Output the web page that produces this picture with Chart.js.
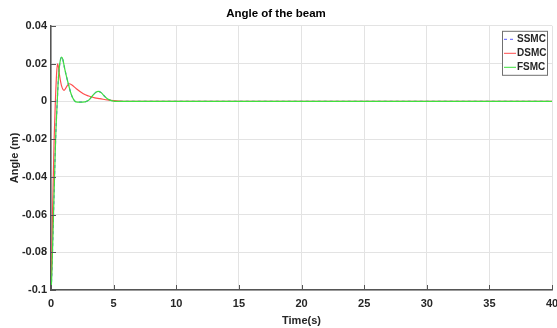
<!DOCTYPE html>
<html>
<head>
<meta charset="utf-8">
<script src="https://cdn.jsdelivr.net/npm/chart.js@4/dist/chart.umd.min.js"></script>
<style>
  html, body { margin: 0; padding: 0; background: #fff; }
  #wrap { width: 557px; height: 328px; position: relative; }
</style>
</head>
<body>
<div id="wrap"><canvas id="myChart"></canvas></div>
<script>
// beam angle responses of the three controllers
const ssmcTime = [0, 0.05, 0.2, 0.37, 0.5, 0.6, 0.7, 0.85, 0.95, 1.1, 1.38, 1.6, 1.8, 2.0, 2.3, 2.7, 3.0, 3.3, 3.55, 3.78, 4.0, 4.3, 4.6, 4.9, 5.1, 5.5, 40];
const ssmcAngle = [-0.099, -0.094, -0.06, -0.02, 0, 0.013, 0.02, 0.0233, 0.022, 0.017, 0.0093, 0.004, 0.001, -0.0003, -0.0004, -0.0003, 0.0005, 0.0028, 0.0046, 0.0053, 0.0046, 0.0025, 0.0009, 0.0002, 0, 0, 0];

const dsmcTime = [0, 0.03, 0.12, 0.25, 0.35, 0.45, 0.52, 0.6, 0.7, 0.85, 1.04, 1.25, 1.44, 1.7, 2.0, 2.58, 3.0, 3.5, 3.9, 4.5, 5.0, 5.5, 6.0, 40];
const dsmcAngle = [-0.096, -0.094, -0.06, -0.02, 0, 0.015, 0.0199, 0.018, 0.013, 0.008, 0.0058, 0.0078, 0.0093, 0.0085, 0.0068, 0.004, 0.0028, 0.0018, 0.0014, 0.0007, 0.0003, 0.0001, 0, 0];

const fsmcTime = [0, 0.05, 0.2, 0.37, 0.5, 0.6, 0.7, 0.85, 0.95, 1.1, 1.38, 1.6, 1.8, 2.0, 2.3, 2.7, 3.0, 3.3, 3.55, 3.78, 4.0, 4.3, 4.6, 4.9, 5.1, 5.5, 40];
const fsmcAngle = [-0.1, -0.095, -0.06, -0.02, 0, 0.013, 0.02, 0.0234, 0.022, 0.017, 0.0093, 0.004, 0.001, -0.0003, -0.0004, -0.0003, 0.0005, 0.0028, 0.0046, 0.0053, 0.0046, 0.0025, 0.0009, 0.0002, 0, 0, 0];

const xTicks = [0, 5, 10, 15, 20, 25, 30, 35, 40];
const yTicks = [-0.1, -0.08, -0.06, -0.04, -0.02, 0, 0.02, 0.04];

const toPoints = (ts, vs) => ts.map((t, i) => ({ x: t, y: vs[i] }));

const boldFont = { family: "'Liberation Sans', Arial, sans-serif", weight: "bold", size: 11 };
const inkColor = "#262626";
const axisColor = "#555555";
const gridColor = "#e3e3e3";

// MATLAB-style inward ticks and legend box inside the axes
const axesDecor = {
  id: "axesDecor",
  afterDraw(chart) {
    const { ctx, chartArea, scales } = chart;
    ctx.save();
    ctx.strokeStyle = axisColor;
    ctx.lineWidth = 1;
    ctx.beginPath();
    xTicks.forEach((t) => {
      const px = Math.round(scales.x.getPixelForValue(t)) + 0.5;
      ctx.moveTo(px, chartArea.bottom);
      ctx.lineTo(px, chartArea.bottom - 5);
    });
    yTicks.forEach((v) => {
      const py = Math.round(scales.y.getPixelForValue(v)) + 0.5;
      ctx.moveTo(chartArea.left, py);
      ctx.lineTo(chartArea.left + 5, py);
    });
    ctx.stroke();

    // legend
    const bx = chartArea.right - 50, by = chartArea.top + 5, bw = 45, bh = 44;
    ctx.fillStyle = "#ffffff";
    ctx.fillRect(bx, by, bw, bh);
    ctx.strokeStyle = "#707070";
    ctx.lineWidth = 1;
    ctx.strokeRect(bx + 0.5, by + 0.5, bw, bh);
    ctx.font = "bold 10px 'Liberation Sans', Arial, sans-serif";
    ctx.textBaseline = "middle";
    chart.data.datasets.forEach((ds, i) => {
      const ly = by + 8.5 + i * 14;
      ctx.strokeStyle = ds.borderColor;
      ctx.lineWidth = 1;
      ctx.setLineDash(ds.borderDash || []);
      ctx.beginPath();
      ctx.moveTo(bx + 2, ly);
      ctx.lineTo(bx + 14, ly);
      ctx.stroke();
      ctx.setLineDash([]);
      ctx.fillStyle = inkColor;
      ctx.fillText(ds.label, bx + 15, ly);
    });
    ctx.restore();
  },
};

const chart = new Chart(document.getElementById("myChart"), {
  type: "line",
  data: {
    datasets: [
      {
        label: "SSMC",
        data: toPoints(ssmcTime, ssmcAngle),
        borderColor: "#5a5aff",
        borderDash: [3, 3],
        order: 2,
      },
      {
        label: "DSMC",
        data: toPoints(dsmcTime, dsmcAngle),
        borderColor: "#ff4d4d",
        order: 1,
      },
      {
        label: "FSMC",
        data: toPoints(fsmcTime, fsmcAngle),
        borderColor: "#3ee03e",
        order: 0,
      },
    ],
  },
  options: {
    responsive: true,
    maintainAspectRatio: false,
    animation: false,
    datasets: {
      line: {
        borderWidth: 1.2,
        pointRadius: 0,
        cubicInterpolationMode: "monotone",
        fill: false,
      },
    },
    layout: { padding: { top: 0, right: 5, bottom: 0, left: 0 } },
    scales: {
      x: {
        type: "linear",
        min: 0,
        max: 40,
        afterBuildTicks: (s) => { s.ticks = xTicks.map((v) => ({ value: v })); },
        afterFit: (s) => { s.height = 38; s.paddingLeft = 0; s.paddingRight = 0; },
        ticks: { color: inkColor, font: boldFont, padding: 7, maxRotation: 0 },
        grid: { color: gridColor, drawTicks: false },
        border: { color: axisColor, width: 1.5 },
        title: {
          display: true,
          text: "Time(s)",
          color: inkColor,
          font: boldFont,
          padding: { top: 0, bottom: 0 },
        },
      },
      y: {
        type: "linear",
        min: -0.1,
        max: 0.04,
        afterBuildTicks: (s) => { s.ticks = yTicks.map((v) => ({ value: v })); },
        afterFit: (s) => { s.width = 51; },
        ticks: {
          color: inkColor,
          font: boldFont,
          padding: 4,
          callback: (v) => (Math.abs(v) < 1e-9 ? "0" : String(+v.toFixed(2))),
        },
        grid: { color: gridColor, drawTicks: false },
        border: { color: axisColor, width: 1.5 },
        title: {
          display: true,
          text: "Angle (m)",
          color: inkColor,
          font: boldFont,
          padding: { top: 8, bottom: 0 },
        },
      },
    },
    plugins: {
      legend: { display: false },
      tooltip: { enabled: false },
      title: {
        display: true,
        text: "Angle of the beam",
        color: "#000000",
        font: { family: "'Liberation Sans', Arial, sans-serif", weight: "bold", size: 11.5 },
        padding: { top: 7, bottom: 5 },
      },
    },
  },
  plugins: [axesDecor],
});
</script>
</body>
</html>
